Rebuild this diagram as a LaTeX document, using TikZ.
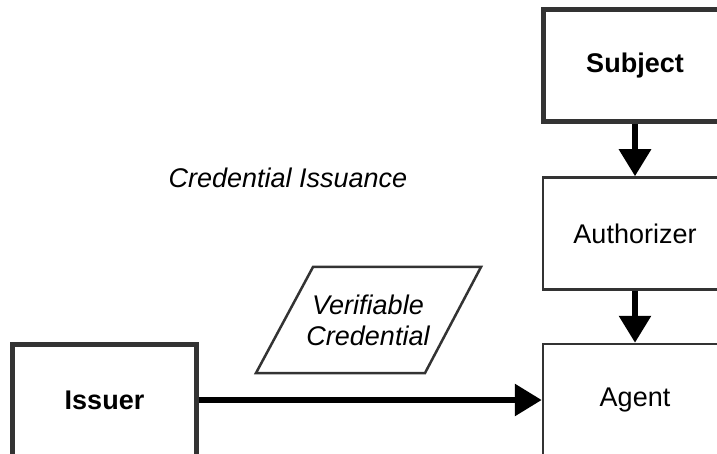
\documentclass[tikz,border=0pt]{standalone}
\usepackage{fontspec}
\setmainfont{Liberation Sans}
\usetikzlibrary{arrows.meta}

\definecolor{edgegray}{HTML}{333333}

\begin{document}
\begin{tikzpicture}[x=1pt,y=-1pt,
  every node/.style={font=\fontsize{27}{31}\selectfont},
  role/.style={draw=edgegray, line width=5pt, fill=white, minimum width=184pt, minimum height=112pt, font=\fontsize{27}{31}\selectfont\bfseries},
  actor/.style={draw=edgegray, line width=2.5pt, fill=white, minimum width=184pt, minimum height=112pt},
  flow/.style={line width=6pt, -{Triangle[length=27pt,width=31pt]}}]
\useasboundingbox (0,0) rectangle (717,454);
\clip (0,0) rectangle (717,454);

\node[role] (subject) at (635,66) {Subject};
\node[actor] (authorizer) at (635,233.5) {Authorizer};
\node[actor] (agent) at (635,400) {Agent};
\node[role] (issuer) at (104.5,400) {Issuer};

\draw[draw=edgegray, line width=2.5pt, fill=white] (313,267) -- (481,267) -- (425,373) -- (256,373) -- cycle;
\node[align=center, font=\fontsize{27}{31}\selectfont\itshape] (credential) at (368,320) {Verifiable\\Credential};

\node[font=\fontsize{27}{31}\selectfont\itshape] (issuance) at (288,178) {Credential Issuance};

\draw[flow] (subject) -- (authorizer);
\draw[flow] (authorizer) -- (agent);
\draw[flow] (issuer) -- (agent);
\end{tikzpicture}
\end{document}
